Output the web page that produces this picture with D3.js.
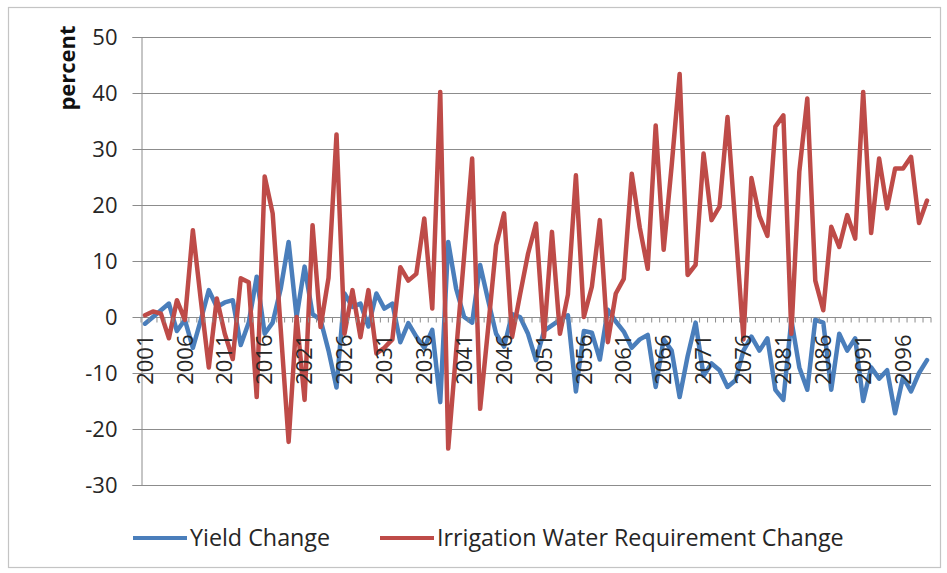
<!DOCTYPE html>
<html>
<head>
<meta charset="utf-8">
<script src="https://cdn.jsdelivr.net/npm/d3@7/dist/d3.min.js"></script>
<style>
  body { margin: 0; background: #fff; }
  text { font-family: "Open Sans", "Liberation Sans", sans-serif; fill: #262626; }
</style>
</head>
<body>
<div id="chart"></div>
<script>
// Years on the category axis (one value per year)
const years = d3.range(2001, 2100);

// Yield change, percent
const yieldChange = [
    -1.2, 0, 1.2, 2.4, -2.5, -0.5, -5.5, -0.5, 4.8, 1.8,
    2.6, 3, -5, -1, 7.2, -3, -1, 5, 13.4, 0,
    9, 0.5, -0.5, -6, -12.6, 4.2, 1.8, 2.4, -1.7, 4.2,
    1.5, 2.4, -4.5, -1.1, -3.5, -5.5, -2.3, -15.2, 13.4, 5,
    0, -1, 9.3, 3, -3, -5.3, 0.5, 0, -3, -7.7,
    -2.5, -1.5, -0.5, 0.3, -13.3, -2.5, -2.8, -7.6, 1.3, -0.8,
    -2.6, -5.5, -4, -3.2, -12.5, -4, -6, -14.3, -7, -1,
    -10.5, -8.3, -9.5, -12.5, -11.3, -6, -3.5, -6, -3.8, -13,
    -14.8, -0.5, -9, -13, -0.5, -1, -13, -3, -6, -3.8,
    -15, -9, -11, -9.5, -17.2, -10.7, -13.3, -10, -7.7
];

// Irrigation water requirement change, percent
const irrigationChange = [
    0.3, 1, 0.6, -3.8, 3, -0.5, 15.5, 3, -9, 3.3,
    -3, -7.5, 6.9, 6.2, -14.3, 25.1, 18.5, -2, -22.3, 0,
    -14.8, 16.4, -1.8, 7, 32.6, -3, 4.8, -3.6, 4.8, -6.5,
    -5.5, -4, 8.9, 6.5, 7.7, 17.6, 1.5, 40.2, -23.5, -6,
    11, 28.3, -16.4, -2, 12.8, 18.5, -3.6, 4, 11.3, 16.7,
    -3.6, 15.2, -3, 4, 25.3, 0, 5.4, 17.3, -4.5, 4.2,
    6.8, 25.6, 16, 8.6, 34.2, 12, 27, 43.4, 7.5, 9.3,
    29.2, 17.3, 19.7, 35.7, 16, -4, 24.8, 18, 14.5, 34,
    36, -3, 26, 39, 6.5, 1.2, 16.1, 12.5, 18.2, 14,
    40.2, 15, 28.3, 19.4, 26.5, 26.5, 28.6, 16.8, 20.8
];

const yTicks = [-30, -20, -10, 0, 10, 20, 30, 40, 50];
const labelYears = years.filter(y => (y - 2001) % 5 === 0);
const seriesNames = ["Yield Change", "Irrigation Water Requirement Change"];
const seriesColors = ["#4A7EBB", "#BE4B48"];

const width = 947;
const height = 573;
const plot = { left: 141, right: 931, top: 37, bottom: 485 };

const svg = d3.select("#chart")
    .append("svg")
    .attr("width", width)
    .attr("height", height);

// outer chart frame
svg.append("rect")
    .attr("x", 8.5).attr("y", 7.5)
    .attr("width", 932).attr("height", 560)
    .attr("fill", "#fff")
    .attr("stroke", "#c4c4c4")
    .attr("stroke-width", 1.2);

const x = d3.scaleBand()
    .domain(years)
    .range([plot.left, plot.right]);
const cx = d => x(d) + x.bandwidth() / 2;

const y = d3.scaleLinear()
    .domain([-30, 50])
    .range([plot.bottom, plot.top]);

// horizontal gridlines
svg.append("g")
    .selectAll("line")
    .data(yTicks)
    .join("line")
    .attr("x1", plot.left)
    .attr("x2", plot.right)
    .attr("y1", d => Math.round(y(d)) + 0.5)
    .attr("y2", d => Math.round(y(d)) + 0.5)
    .attr("stroke", "#8c8c8c")
    .attr("stroke-width", 1);

// value axis (plain hyphen for negatives, like the original)
const yAxis = svg.append("g")
    .attr("transform", `translate(${plot.left + 0.5},0)`)
    .call(d3.axisLeft(y).tickValues(yTicks).tickFormat(d => String(d)).tickSize(9).tickPadding(15));
yAxis.select(".domain").attr("stroke", "#8c8c8c");
yAxis.selectAll(".tick line").attr("stroke", "#8c8c8c");
yAxis.selectAll(".tick text")
    .attr("font-size", 22)
    .attr("font-family", "Open Sans, Liberation Sans, sans-serif")
    .attr("fill", "#262626");

// series lines, irrigation drawn last so it sits on top
const line = d3.line()
    .x((d, i) => cx(years[i]))
    .y(d => y(d));

[yieldChange, irrigationChange].forEach((values, k) => {
    svg.append("path")
        .datum(values)
        .attr("d", line)
        .attr("fill", "none")
        .attr("stroke", seriesColors[k])
        .attr("stroke-width", 4.5)
        .attr("stroke-linejoin", "round")
        .attr("stroke-linecap", "round");
});

// category axis sits on the zero line, with a small tick per year
const y0 = Math.round(y(0)) + 0.5;
svg.append("g")
    .selectAll("line")
    .data(d3.range(years.length + 1))
    .join("line")
    .attr("x1", i => plot.left + i * x.step())
    .attr("x2", i => plot.left + i * x.step())
    .attr("y1", y0)
    .attr("y2", y0 + 5)
    .attr("stroke", "#8c8c8c");

// year labels are drawn over the lines
svg.append("g")
    .selectAll("text")
    .data(labelYears)
    .join("text")
    .attr("transform", d => `translate(${cx(d)},${y0 + 17}) rotate(-90)`)
    .attr("text-anchor", "end")
    .attr("dy", "0.35em")
    .attr("font-size", 22)
    .text(d => d);

// axis title
svg.append("text")
    .attr("transform", "translate(75,68) rotate(-90)")
    .attr("text-anchor", "middle")
    .attr("font-size", 22)
    .attr("font-weight", "bold")
    .style("fill", "#111")
    .text("percent");

// legend
const legendX = [133, 380];
const legendY = 538;
seriesNames.forEach((name, k) => {
    svg.append("line")
        .attr("x1", legendX[k]).attr("x2", legendX[k] + 54)
        .attr("y1", legendY).attr("y2", legendY)
        .attr("stroke", seriesColors[k])
        .attr("stroke-width", 4);
    svg.append("text")
        .attr("x", legendX[k] + 57)
        .attr("y", legendY)
        .attr("dy", "0.35em")
        .attr("font-size", 23.3)
        .text(name);
});
</script>
</body>
</html>
